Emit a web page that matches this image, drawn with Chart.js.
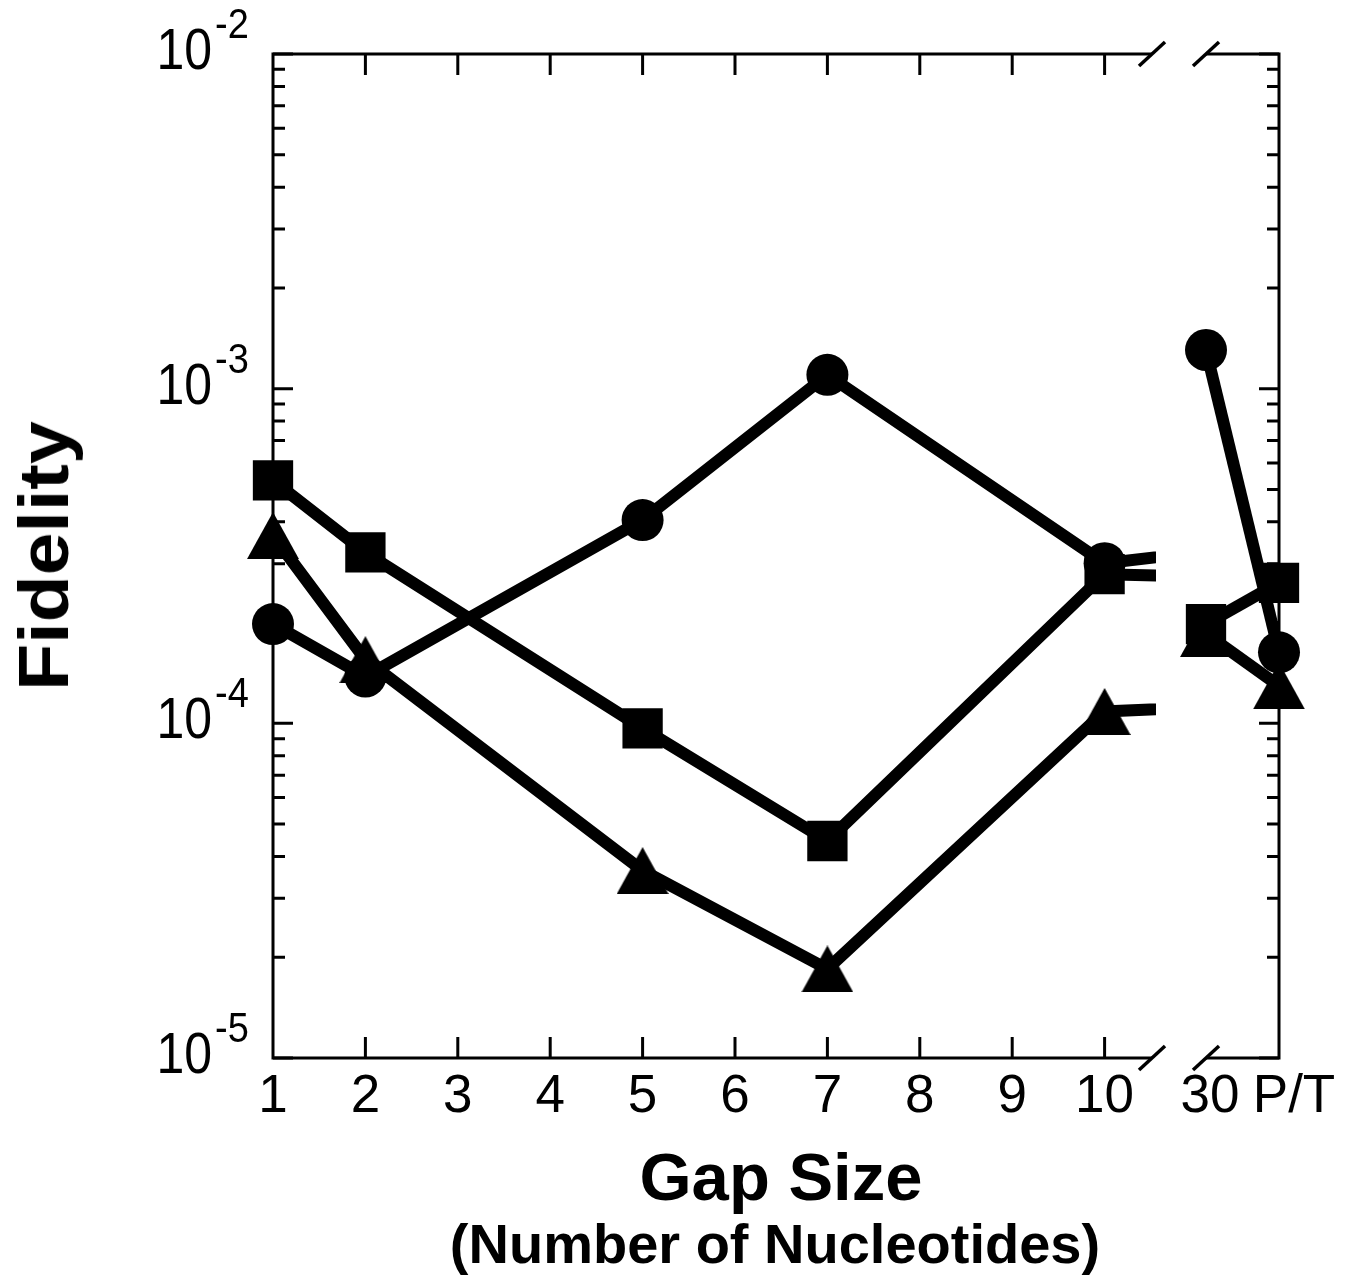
<!DOCTYPE html>
<html>
<head>
<meta charset="utf-8">
<script src="https://cdn.jsdelivr.net/npm/chart.js@4.4.1/dist/chart.umd.min.js"></script>
<style>
html, body { margin: 0; padding: 0; background: #ffffff; }
#wrap { position: relative; width: 1356px; height: 1284px; overflow: hidden; background: #ffffff; }
#wrap canvas { position: absolute; left: 0; top: 0; }
.t { position: absolute; font-family: "Liberation Sans", Arial, Helvetica, sans-serif; font-weight: bold; color: #000; white-space: nowrap; line-height: 1; }
#ytitle { left: 44px; top: 556px; font-size: 70px; transform: translate(-50%, -50%) rotate(-90deg) scaleX(1.1); }
#xtitle1 { left: 781px; top: 1143px; font-size: 67px; transform: translateX(-50%); }
#xtitle2 { left: 775px; top: 1216px; font-size: 56px; transform: translateX(-50%); }
</style>
</head>
<body>
<div id="wrap">
  <canvas id="leftPanel" width="1356" height="1284"></canvas>
  <canvas id="rightPanel" width="1356" height="1284"></canvas>
  <div class="t" id="ytitle">Fidelity</div>
  <div class="t" id="xtitle1">Gap Size</div>
  <div class="t" id="xtitle2">(Number of Nucleotides)</div>
</div>
<script>
// ---------------- data ----------------
const gapSizes = [1, 2, 5, 7, 10, 30];
const rightCategories = ['30', 'P/T'];
const xTickValues = [1, 2, 3, 4, 5, 6, 7, 8, 9, 10];
const xTickLabels = ['1', '2', '3', '4', '5', '6', '7', '8', '9', '10'];

const circleGap   = [1.98e-4, 1.38e-4, 4.05e-4, 1.10e-3, 3.01e-4, 1.305e-3];
const circlePT    = 1.63e-4;
const squareGap   = [5.32e-4, 3.24e-4, 9.66e-5, 4.45e-5, 2.79e-4, 1.98e-4];
const squarePT    = 2.63e-4;
const triangleGap = [3.64e-4, 1.55e-4, 3.63e-5, 1.845e-5, 1.085e-4, 1.855e-4];
const trianglePT  = 1.294e-4;

const yMajorTicks = [1e-5, 1e-4, 1e-3, 1e-2];
const yTickBase = '10';
const yTickExponents = ['-5', '-4', '-3', '-2'];
const yMinorMultipliers = [2, 3, 4, 5, 6, 7, 8, 9];

// ---------------- styles ----------------
const FONT = '"Liberation Sans", Arial, Helvetica, sans-serif';
const LINE_W = 12;
const TICK_FONT_SIZE = 53;
const rightLabelShift = [4, 15];   // horizontal label nudges (px) for the right panel

function makeTriangle(w, h) {
  const c = document.createElement('canvas');
  c.width = w; c.height = h;
  const g = c.getContext('2d');
  g.fillStyle = '#000';
  g.beginPath();
  g.moveTo(0, h); g.lineTo(w / 2, 0); g.lineTo(w, h); g.closePath();
  g.fill();
  return c;
}
const triangleImg = makeTriangle(52, 47);

const seriesStyles = [
  { style: triangleImg, radius: 26 },
  { style: 'rect', radius: 28.5 },
  { style: 'circle', radius: 21 }
];

function dsCommon(s) {
  return {
    borderColor: '#000', backgroundColor: '#000', borderWidth: LINE_W,
    pointStyle: s.style, pointRadius: s.radius, pointHoverRadius: s.radius,
    pointBorderWidth: 0, pointBackgroundColor: '#000', pointBorderColor: '#000',
    tension: 0, borderCapStyle: 'butt', borderJoinStyle: 'miter'
  };
}

// ---------------- axis / frame plugins ----------------
function yTickPixels(yScale) {
  const majors = yMajorTicks.map(v => yScale.getPixelForValue(v));
  const minors = [];
  for (let d = 0; d < yMajorTicks.length - 1; d++) {
    for (const m of yMinorMultipliers) minors.push(yScale.getPixelForValue(yMajorTicks[d] * m));
  }
  return { majors, minors };
}
function slash(ctx, cx, cy) {
  ctx.beginPath();
  ctx.moveTo(cx - 13, cy + 12);
  ctx.lineTo(cx + 13, cy - 12);
  ctx.stroke();
}

const leftFrame = {
  id: 'leftFrame',
  beforeDatasetsDraw(chart) {
    const { ctx, chartArea, scales } = chart;
    const L = chartArea.left, R = chartArea.right, T = chartArea.top, B = chartArea.bottom;
    ctx.save();
    ctx.strokeStyle = '#000';
    ctx.lineWidth = 3;
    ctx.beginPath();
    ctx.moveTo(R, T); ctx.lineTo(L, T); ctx.lineTo(L, B); ctx.lineTo(R, B);
    ctx.stroke();
    const { majors, minors } = yTickPixels(scales.y);
    ctx.beginPath();
    majors.forEach(p => { ctx.moveTo(L, p); ctx.lineTo(L + 20, p); });
    minors.forEach(p => { ctx.moveTo(L, p); ctx.lineTo(L + 12, p); });
    xTickValues.slice(1).forEach(v => {
      const p = scales.x.getPixelForValue(v);
      ctx.moveTo(p, T); ctx.lineTo(p, T + 21);
      ctx.moveTo(p, B); ctx.lineTo(p, B - 21);
    });
    ctx.stroke();
    ctx.lineWidth = 3.5;
    slash(ctx, R, T); slash(ctx, R, B);
    ctx.fillStyle = '#000';
    ctx.textBaseline = 'alphabetic';
    yMajorTicks.forEach((v, i) => {
      const p = scales.y.getPixelForValue(v);
      ctx.save();
      ctx.translate(L - 61, p + 15);
      ctx.scale(1, 1.14);
      ctx.font = '50px ' + FONT;
      ctx.textAlign = 'right';
      ctx.fillText(yTickBase, 0, 0);
      ctx.restore();
      ctx.save();
      ctx.translate(L - 58, p - 16);
      ctx.scale(1, 1.1);
      ctx.font = '38px ' + FONT;
      ctx.textAlign = 'left';
      ctx.fillText(yTickExponents[i], 0, 0);
      ctx.restore();
    });
    ctx.restore();
  }
};

const rightFrame = {
  id: 'rightFrame',
  beforeDatasetsDraw(chart) {
    const { ctx, chartArea, scales } = chart;
    const L = chartArea.left, R = chartArea.right, T = chartArea.top, B = chartArea.bottom;
    ctx.save();
    ctx.strokeStyle = '#000';
    ctx.lineWidth = 3;
    ctx.beginPath();
    ctx.moveTo(L, T); ctx.lineTo(R, T); ctx.lineTo(R, B); ctx.lineTo(L, B);
    ctx.stroke();
    const { majors, minors } = yTickPixels(scales.y);
    ctx.beginPath();
    majors.forEach(p => { ctx.moveTo(R, p); ctx.lineTo(R - 20, p); });
    minors.forEach(p => { ctx.moveTo(R, p); ctx.lineTo(R - 12, p); });
    ctx.stroke();
    ctx.lineWidth = 3.5;
    slash(ctx, L, T); slash(ctx, L, B);
    // category tick labels
    ctx.fillStyle = '#000';
    ctx.font = TICK_FONT_SIZE + 'px ' + FONT;
    ctx.textAlign = 'center';
    ctx.textBaseline = 'middle';
    const labelY = B + 8 + TICK_FONT_SIZE * 1.2 / 2;
    rightCategories.forEach((lab, i) => {
      ctx.fillText(lab, scales.x.getPixelForValue(i) + rightLabelShift[i], labelY);
    });
    ctx.restore();
  }
};

// ---------------- charts ----------------
const CANVAS_W = 1356, CANVAS_H = 1284;
const AXIS_H = 80;
const leftArea  = { left: 273, right: 1152, top: 54, bottom: 1058 };
const rightArea = { left: 1206, right: 1279, top: 54, bottom: 1058 };

const tickFont = { family: FONT, size: TICK_FONT_SIZE, weight: 'normal' };

const leftSeries = [triangleGap, squareGap, circleGap];
new Chart(document.getElementById('leftPanel'), {
  type: 'line',
  data: {
    datasets: leftSeries.map((vals, k) => Object.assign({
      data: gapSizes.map((g, i) => ({ x: g, y: vals[i] })),
      clip: { left: false, top: false, bottom: false, right: 4 }
    }, dsCommon(seriesStyles[k])))
  },
  options: {
    responsive: false, animation: false, devicePixelRatio: 1, events: [],
    layout: { padding: { left: leftArea.left, right: CANVAS_W - leftArea.right, top: leftArea.top, bottom: CANVAS_H - leftArea.bottom - AXIS_H } },
    plugins: { legend: { display: false }, tooltip: { enabled: false } },
    scales: {
      x: {
        type: 'linear', min: 1, max: 1 + (leftArea.right - leftArea.left) / 92.4,
        position: 'bottom',
        grid: { display: false, drawTicks: false },
        border: { display: false },
        afterBuildTicks: s => { s.ticks = xTickValues.map(v => ({ value: v })); },
        afterFit: s => { s.height = AXIS_H; },
        ticks: {
          autoSkip: false, maxRotation: 0, minRotation: 0, padding: 8, color: '#000', font: tickFont,
          callback: (v, i) => xTickLabels[i]
        }
      },
      y: { type: 'logarithmic', min: 1e-5, max: 1e-2, display: false }
    }
  },
  plugins: [leftFrame]
});

const rightSeries = [[triangleGap[5], trianglePT], [squareGap[5], squarePT], [circleGap[5], circlePT]];
new Chart(document.getElementById('rightPanel'), {
  type: 'line',
  data: {
    labels: rightCategories,
    datasets: rightSeries.map((vals, k) => Object.assign({ data: vals, clip: false }, dsCommon(seriesStyles[k])))
  },
  options: {
    responsive: false, animation: false, devicePixelRatio: 1, events: [],
    layout: { padding: { left: rightArea.left, right: CANVAS_W - rightArea.right, top: rightArea.top, bottom: CANVAS_H - rightArea.bottom - AXIS_H } },
    plugins: { legend: { display: false }, tooltip: { enabled: false } },
    scales: {
      x: {
        type: 'category', offset: false, position: 'bottom',
        grid: { display: false, drawTicks: false },
        border: { display: false },
        afterFit: s => { s.height = AXIS_H; },
        ticks: { display: false }
      },
      y: { type: 'logarithmic', min: 1e-5, max: 1e-2, display: false }
    }
  },
  plugins: [rightFrame]
});
</script>
</body>
</html>
